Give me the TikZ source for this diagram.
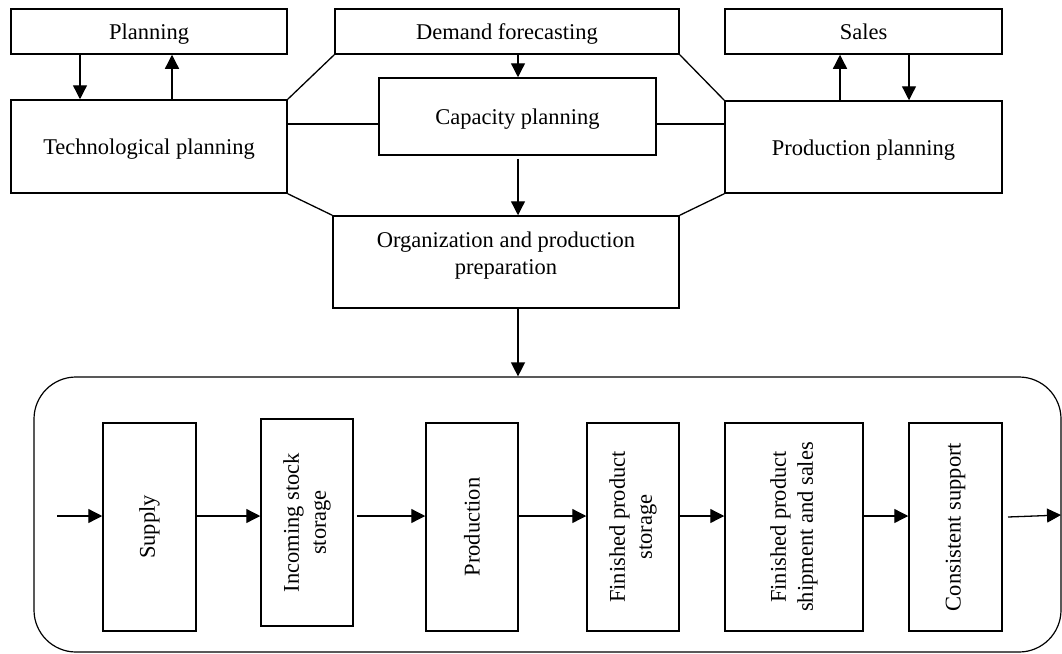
\documentclass[tikz,border=0pt]{standalone}
\usepackage{fontspec}
\setmainfont{Liberation Serif}
\usetikzlibrary{arrows.meta}
\begin{document}
\begin{tikzpicture}[x=1pt,y=-1pt,
  box/.style={draw, line width=1.5pt, inner sep=0pt, align=center, text height=17pt, text depth=1pt, font=\fontsize{22.5}{27}\selectfont},
  vbox/.style={draw, line width=1.5pt, inner sep=0pt},
  txt/.style={inner sep=0pt, align=center, font=\fontsize{22.5}{27}\selectfont},
  vtxt/.style={txt, rotate=90},
  ln/.style={line width=1.3pt},
  arr/.style={line width=1.3pt, -{Triangle[length=14pt,width=14pt]}}]
\useasboundingbox (0,0) rectangle (1062,653);
% top boxes
\node[box, minimum width=276pt, minimum height=45pt] (plan) at (149,31.5) {Planning};
\node[box, minimum width=344pt, minimum height=45pt] (dem) at (507,31.5) {Demand forecasting};
\node[box, minimum width=277pt, minimum height=45pt] (sales) at (863.5,31.5) {Sales};
\node[box, minimum width=276pt, minimum height=93pt] (tech) at (149,146.5) {Technological planning};
\node[box, minimum width=277pt, minimum height=77pt] (cap) at (517.5,116.5) {Capacity planning};
\node[box, minimum width=277pt, minimum height=92pt] (pp) at (863.5,147) {Production planning};
\node[vbox, minimum width=346pt, minimum height=92pt] (org) at (506,262) {};
\node[txt] (orgt) at (506,256) {Organization and production\\preparation};
% coordinates
\coordinate (h) at (0,124);
\coordinate (a1) at (80,0);
\coordinate (a2) at (172,0);
\coordinate (a3) at (840,0);
\coordinate (a4) at (909,0);
\coordinate (a5) at (518,0);
% octagon lines
\draw[ln] (tech.north east) -- (dem.south west);
\draw[ln] (tech.south east) -- (org.north west);
\draw[ln] (dem.south east) -- (pp.north west);
\draw[ln] (org.north east) -- (pp.south west);
\draw[ln] (tech.east |- h) -- (cap.west |- h);
\draw[ln] (cap.east |- h) -- (pp.west |- h);
% vertical arrows
\draw[arr] (plan.south -| a1) -- (tech.north -| a1);
\draw[arr] (tech.north -| a2) -- (plan.south -| a2);
\draw[arr] (pp.north -| a3) -- (sales.south -| a3);
\draw[arr] (sales.south -| a4) -- (pp.north -| a4);
\draw[arr] (dem.south -| a5) -- (cap.north -| a5);
\draw[arr] ([yshift=-3pt]cap.south -| a5) -- (org.north -| a5);
% process container
\node[draw, line width=1.2pt, rounded corners=42pt, minimum width=1027pt, minimum height=275pt, inner sep=0pt] (proc) at (547.5,514.5) {};
\draw[arr] (org.south -| a5) -- (proc.north -| a5);
% process boxes
\node[vbox, minimum width=93pt, minimum height=208pt] (sup) at (149.5,527) {};
\node[vtxt] (supt) at (sup) {Supply};
\node[vbox, minimum width=92pt, minimum height=207pt] (inc) at (307,522.5) {};
\node[vtxt] (inct) at (inc) {Incoming stock\\storage};
\node[vbox, minimum width=92pt, minimum height=208pt] (prod) at (472,527) {};
\node[vtxt] (prodt) at (prod) {Production};
\node[vbox, minimum width=92pt, minimum height=208pt] (fps) at (633,527) {};
\node[vtxt] (fpst) at (fps) {Finished product\\storage};
\node[vbox, minimum width=138pt, minimum height=208pt] (ship) at (794,527) {};
\node[vtxt] (shipt) at (ship) {Finished product\\shipment and sales};
\node[vbox, minimum width=93pt, minimum height=208pt] (cons) at (955.5,527) {};
\node[vtxt] (const) at (cons) {Consistent support};
% horizontal flow
\coordinate (r) at (0,516);
\coordinate (in) at (57,516);
\coordinate (outs) at (1008,517);
\coordinate (oute) at (1061,515);
\draw[arr] (in) -- (sup.west |- r);
\draw[arr] (sup.east |- r) -- (inc.west |- r);
\draw[arr] ([xshift=3pt]inc.east |- r) -- (prod.west |- r);
\draw[arr] (prod.east |- r) -- (fps.west |- r);
\draw[arr] (fps.east |- r) -- (ship.west |- r);
\draw[arr] (ship.east |- r) -- (cons.west |- r);
\draw[arr] (outs) -- (oute);
\end{tikzpicture}
\end{document}
